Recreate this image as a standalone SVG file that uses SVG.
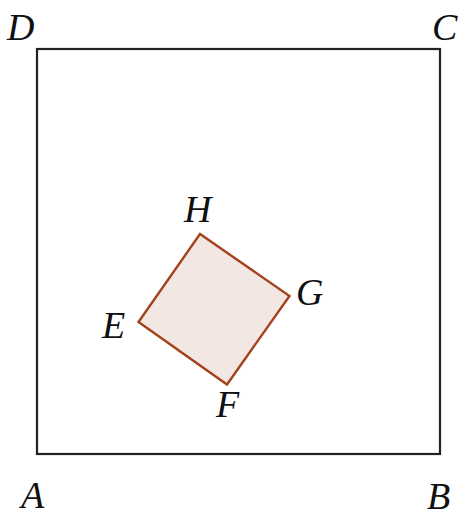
<svg xmlns="http://www.w3.org/2000/svg" width="461" height="518" viewBox="0 0 461 518">
<style>
.lbl{font-family:"Liberation Serif","DejaVu Serif",serif;font-style:italic;font-size:38px;fill:#111;}
.outer{fill:none;stroke:#222;stroke-width:2.2;}
.inner{fill:#f2e7e3;stroke:#a3421c;stroke-width:2.4;stroke-linejoin:miter;}
</style>
<rect width="461" height="518" fill="#fff"/>
<g id="outer-square"><rect class="outer" x="37" y="49" width="403" height="405"/></g>
<g id="inner-square"><polygon class="inner" points="138.5,322 227,384.5 289.5,296 200,234"/></g>
<g id="labels">
<text class="lbl" x="7" y="40">D</text>
<text class="lbl" x="432" y="40">C</text>
<text class="lbl" x="21" y="508">A</text>
<text class="lbl" x="427" y="509">B</text>
<text class="lbl" x="184" y="222">H</text>
<text class="lbl" x="296" y="305">G</text>
<text class="lbl" x="102" y="338">E</text>
<text class="lbl" x="216" y="417">F</text>
</g>
</svg>
